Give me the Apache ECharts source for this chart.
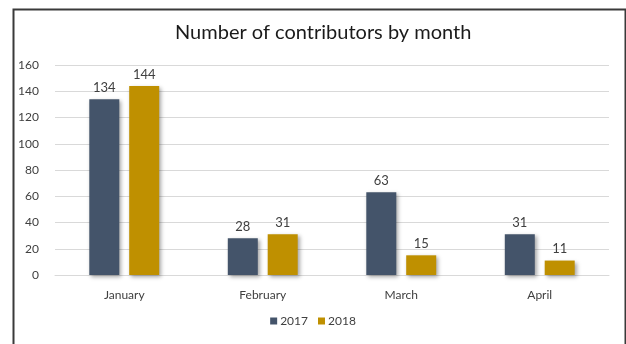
<!DOCTYPE html>
<html>
<head>
<meta charset="utf-8">
<script src="https://cdn.jsdelivr.net/npm/echarts@6/dist/echarts.min.js"></script>
<style>
  html, body { margin: 0; padding: 0; background: #fff; }
  #chart { width: 626px; height: 344px; }
</style>
</head>
<body>
<div id="chart"></div>
<script>
// Monthly contributor counts for two years
const months = ['January', 'February', 'March', 'April'];
const contributors2017 = [134, 28, 63, 31];
const contributors2018 = [144, 31, 15, 11];
const yTicks = { min: 0, max: 160, interval: 20 };

const FONT = 'Lato, "Open Sans", sans-serif';
const TEXT = '#404040';

const barShadow = {
  shadowColor: 'rgba(0,0,0,0.35)',
  shadowBlur: 4,
  shadowOffsetX: 2,
  shadowOffsetY: 2
};

function barSeries(name, data, color) {
  return {
    name: name,
    type: 'bar',
    data: data,
    barWidth: 30,
    barGap: '33%',
    itemStyle: Object.assign({ color: color }, barShadow),
    label: {
      show: true,
      position: 'top',
      distance: 5,
      color: TEXT,
      fontFamily: FONT,
      fontSize: 13
    }
  };
}

const chart = echarts.init(document.getElementById('chart'), null, { renderer: 'canvas' });
chart.setOption({
  animation: false,
  backgroundColor: '#fff',
  title: {
    text: 'Number of contributors by month',
    left: 170,
    top: 18,
    textStyle: { fontFamily: FONT, fontSize: 20, fontWeight: 'normal', color: '#1a1a1a' }
  },
  legend: {
    bottom: 12,
    left: 'center',
    itemWidth: 7,
    itemHeight: 7,
    itemGap: 10,
    icon: 'rect',
    textStyle: { fontFamily: FONT, fontSize: 12, color: TEXT, padding: [0, 0, 0, -2] },
    data: ['2017', '2018']
  },
  grid: { left: 55, right: 17, top: 65, bottom: 69, containLabel: false },
  xAxis: {
    type: 'category',
    data: months,
    axisLine: { lineStyle: { color: '#d9d9d9' } },
    axisTick: { show: false },
    axisLabel: { color: TEXT, fontFamily: FONT, fontSize: 12, margin: 14 }
  },
  yAxis: {
    type: 'value',
    min: yTicks.min,
    max: yTicks.max,
    interval: yTicks.interval,
    axisLine: { show: false },
    axisTick: { show: false },
    splitLine: { lineStyle: { color: '#d9d9d9' } },
    axisLabel: { color: TEXT, fontFamily: FONT, fontSize: 12, margin: 16 }
  },
  graphic: [{
    type: 'rect',
    left: 11,
    top: 7,
    shape: { width: 612, height: 345 },
    style: { fill: 'none', stroke: '#3a3a3a', lineWidth: 2 },
    silent: true
  }],
  series: [
    barSeries('2017', contributors2017, '#44546A'),
    barSeries('2018', contributors2018, '#BF9000')
  ]
});
</script>
</body>
</html>
